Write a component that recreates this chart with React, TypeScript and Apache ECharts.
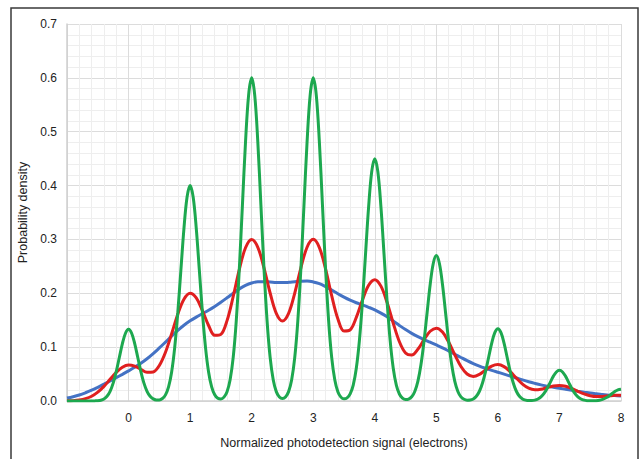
import React, { useEffect, useRef } from "react";
import * as echarts from "echarts";

// Samples cover x = -1 … 8. Blue and red: step 0.1 (91 samples); green: step 0.05 (181 samples).
const xFirst = -1;
const xLast = 8;

const blueSeries = [
  0.0054, 0.0080, 0.0112, 0.0153, 0.0200, 0.0254, 0.0312, 0.0372, 0.0433, 0.0495,
  0.0559, 0.0626, 0.0700, 0.0784, 0.0880, 0.0985, 0.1094, 0.1205, 0.1310, 0.1406,
  0.1488, 0.1558, 0.1622, 0.1685, 0.1755, 0.1833, 0.1916, 0.2002, 0.2082, 0.2147,
  0.2191, 0.2213, 0.2216, 0.2209, 0.2201, 0.2198, 0.2203, 0.2214, 0.2224, 0.2226,
  0.2211, 0.2178, 0.2124, 0.2059, 0.1991, 0.1928, 0.1872, 0.1824, 0.1783, 0.1740,
  0.1692, 0.1632, 0.1563, 0.1484, 0.1403, 0.1326, 0.1256, 0.1194, 0.1141, 0.1091,
  0.1040, 0.0987, 0.0929, 0.0869, 0.0808, 0.0749, 0.0695, 0.0648, 0.0607, 0.0569,
  0.0534, 0.0499, 0.0464, 0.0428, 0.0392, 0.0358, 0.0327, 0.0299, 0.0276, 0.0255,
  0.0235, 0.0218, 0.0200, 0.0182, 0.0165, 0.0147, 0.0133, 0.0121, 0.0109, 0.0100,
  0.0091,
];

const redSeries = [
  0.0003, 0.0007, 0.0019, 0.0044, 0.0089, 0.0165, 0.0272, 0.0402, 0.0531, 0.0628,
  0.0670, 0.0648, 0.0587, 0.0533, 0.0540, 0.0660, 0.0906, 0.1249, 0.1612, 0.1891,
  0.2002, 0.1914, 0.1677, 0.1402, 0.1219, 0.1237, 0.1493, 0.1940, 0.2445, 0.2845,
  0.3000, 0.2854, 0.2472, 0.2005, 0.1627, 0.1484, 0.1627, 0.2005, 0.2473, 0.2855,
  0.3001, 0.2848, 0.2452, 0.1956, 0.1527, 0.1299, 0.1321, 0.1553, 0.1875, 0.2149,
  0.2252, 0.2133, 0.1829, 0.1445, 0.1100, 0.0891, 0.0853, 0.0961, 0.1138, 0.1295,
  0.1353, 0.1279, 0.1094, 0.0858, 0.0641, 0.0501, 0.0456, 0.0495, 0.0575, 0.0649,
  0.0676, 0.0639, 0.0545, 0.0426, 0.0314, 0.0238, 0.0208, 0.0218, 0.0249, 0.0279,
  0.0290, 0.0274, 0.0233, 0.0181, 0.0133, 0.0098, 0.0083, 0.0085, 0.0095, 0.0105,
  0.0109,
];

const greenSeries = [
  0.0000, 0.0000, 0.0000, 0.0000, 0.0000, 0.0000, 0.0000, 0.0000, 0.0000, 0.0002,
  0.0005, 0.0015, 0.0038, 0.0087, 0.0180, 0.0331, 0.0547, 0.0807, 0.1065, 0.1258,
  0.1330, 0.1258, 0.1065, 0.0807, 0.0547, 0.0331, 0.0180, 0.0087, 0.0039, 0.0020,
  0.0020, 0.0046, 0.0114, 0.0263, 0.0540, 0.0996, 0.1644, 0.2428, 0.3204, 0.3784,
  0.4000, 0.3784, 0.3204, 0.2428, 0.1644, 0.0996, 0.0540, 0.0263, 0.0116, 0.0051,
  0.0038, 0.0072, 0.0173, 0.0394, 0.0810, 0.1494, 0.2466, 0.3642, 0.4806, 0.5676,
  0.6000, 0.5676, 0.4806, 0.3642, 0.2466, 0.1494, 0.0810, 0.0394, 0.0174, 0.0074,
  0.0046, 0.0074, 0.0174, 0.0394, 0.0810, 0.1494, 0.2466, 0.3642, 0.4806, 0.5676,
  0.6000, 0.5676, 0.4806, 0.3642, 0.2466, 0.1494, 0.0810, 0.0394, 0.0173, 0.0072,
  0.0040, 0.0057, 0.0131, 0.0296, 0.0608, 0.1121, 0.1850, 0.2732, 0.3605, 0.4257,
  0.4500, 0.4257, 0.3605, 0.2732, 0.1850, 0.1121, 0.0608, 0.0296, 0.0130, 0.0053,
  0.0027, 0.0035, 0.0078, 0.0177, 0.0365, 0.0672, 0.1110, 0.1639, 0.2163, 0.2554,
  0.2700, 0.2554, 0.2163, 0.1639, 0.1110, 0.0672, 0.0365, 0.0177, 0.0077, 0.0032,
  0.0015, 0.0018, 0.0038, 0.0088, 0.0181, 0.0334, 0.0551, 0.0813, 0.1073, 0.1268,
  0.1340, 0.1268, 0.1073, 0.0813, 0.0551, 0.0334, 0.0181, 0.0088, 0.0038, 0.0016,
  0.0007, 0.0008, 0.0016, 0.0037, 0.0077, 0.0142, 0.0234, 0.0346, 0.0457, 0.0539,
  0.0570, 0.0539, 0.0457, 0.0346, 0.0234, 0.0142, 0.0077, 0.0037, 0.0016, 0.0006,
  0.0003, 0.0003, 0.0006, 0.0014, 0.0030, 0.0055, 0.0090, 0.0134, 0.0176, 0.0208,
  0.0220,
];

const xAxisName = "Normalized photodetection signal (electrons)";
const yAxisName = "Probability density";

const toPairs = (ys: number[]) => {
  const step = (xLast - xFirst) / (ys.length - 1);
  return ys.map((y, i) => [Math.round((xFirst + i * step) * 100) / 100, y]);
};

export default function App() {
  const ref = useRef<HTMLDivElement>(null);

  useEffect(() => {
    document.body.style.margin = "0";
    if (!ref.current) return;
    const chart = echarts.init(ref.current, undefined, { renderer: "svg" });
    const font = "Liberation Sans, Arial, sans-serif";
    const lineSeries = (name: string, data: number[], color: string, smooth: number) => ({
      name,
      type: "line",
      data: toPairs(data),
      smooth,
      showSymbol: false,
      symbol: "none",
      lineStyle: { color, width: 3 },
      itemStyle: { color },
      z: 3,
    });
    chart.setOption({
      animation: false,
      backgroundColor: "#ffffff",
      graphic: [
        {
          type: "rect",
          shape: { x: 11, y: 8, width: 627, height: 470 },
          style: { fill: "none", stroke: "#3a3a3a", lineWidth: 1.5 },
          silent: true,
          z: 100,
        },
      ],
      grid: { left: 67, right: 19, top: 24, bottom: 58, containLabel: false },
      xAxis: {
        type: "value",
        min: -1,
        max: 8,
        interval: 1,
        name: xAxisName,
        nameLocation: "middle",
        nameGap: 35,
        nameTextStyle: { color: "#222", fontSize: 12.5, fontFamily: font },
        axisLine: { show: true, onZero: false, lineStyle: { color: "#cfcfcf", width: 1.5 } },
        axisTick: { show: false },
        axisLabel: {
          color: "#222",
          fontSize: 12,
          fontFamily: font,
          margin: 11,
          formatter: (v: number) => (v === -1 ? "" : String(v)),
        },
        splitLine: { show: true, lineStyle: { color: "#dcdcdc", width: 1 } },
        minorTick: { show: false, splitNumber: 5 },
        minorSplitLine: { show: true, lineStyle: { color: "#eeeeee", width: 1 } },
      },
      yAxis: {
        type: "value",
        min: 0,
        max: 0.7,
        interval: 0.1,
        name: yAxisName,
        nameLocation: "middle",
        nameGap: 38,
        nameTextStyle: { color: "#222", fontSize: 12.5, fontFamily: font },
        axisLine: { show: true, onZero: false, lineStyle: { color: "#cfcfcf", width: 1.5 } },
        axisTick: { show: false },
        axisLabel: {
          color: "#222",
          fontSize: 12,
          fontFamily: font,
          margin: 10,
          formatter: (v: number) => v.toFixed(1),
        },
        splitLine: { show: true, lineStyle: { color: "#dcdcdc", width: 1 } },
        minorTick: { show: false, splitNumber: 5 },
        minorSplitLine: { show: true, lineStyle: { color: "#eeeeee", width: 1 } },
      },
      series: [
        lineSeries("Blue", blueSeries, "#4472C4", 0.4),
        lineSeries("Red", redSeries, "#E01F1F", 0.35),
        lineSeries("Green", greenSeries, "#1DA84F", 0.35),
      ],
    });
    return () => chart.dispose();
  }, []);

  return <div ref={ref} style={{ width: 640, height: 459 }} />;
}
